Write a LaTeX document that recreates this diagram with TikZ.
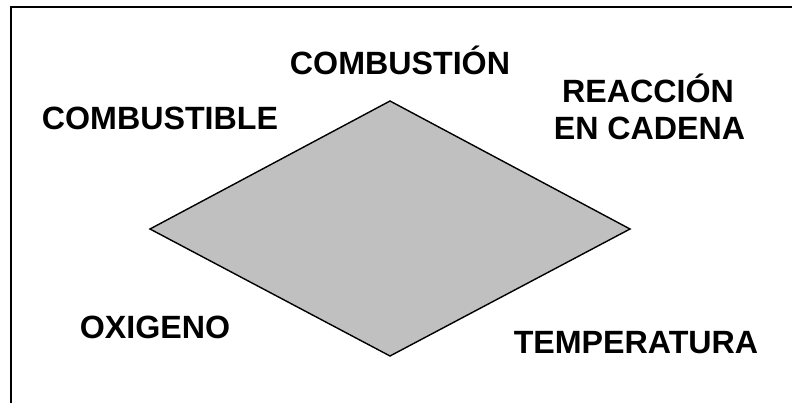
\documentclass[tikz,border=0pt]{standalone}
\usepackage{fontspec}
\setmainfont{Liberation Sans}
\definecolor{rhombfill}{HTML}{C0C0C0}
\begin{document}
\begin{tikzpicture}[x=1pt,y=-1pt,
  lbl/.style={font=\fontsize{32.2}{36}\selectfont\bfseries, inner sep=0pt, anchor=base},
  rhomb/.style={draw=black, line width=1.4pt, fill=rhombfill, line join=miter},
  frameline/.style={draw=black, line width=1.8pt}]
  \useasboundingbox (0,0) rectangle (792,403);
  % open frame: top and left edges only
  \draw[frameline] (792,7) -- (11,7) -- (11,403);
  % corners of the rhombus
  \coordinate (top) at (390,101);
  \coordinate (right) at (630,229);
  \coordinate (bottom) at (390,356);
  \coordinate (left) at (150,229);
  \path[rhomb] (top) -- (right) -- (bottom) -- (left) -- cycle;
  % labels
  \node[lbl] (combustion) at (400,75) {COMBUSTIÓN};
  \node[lbl] (combustible) at (160,130) {COMBUSTIBLE};
  \node[lbl] (reaccion) at (648,103) {REACCIÓN};
  \node[lbl] (cadena) at (649.5,140) {EN CADENA};
  \node[lbl] (oxigeno) at (155,338) {OXIGENO};
  \node[lbl] (temperatura) at (636,353) {TEMPERATURA};
\end{tikzpicture}
\end{document}
